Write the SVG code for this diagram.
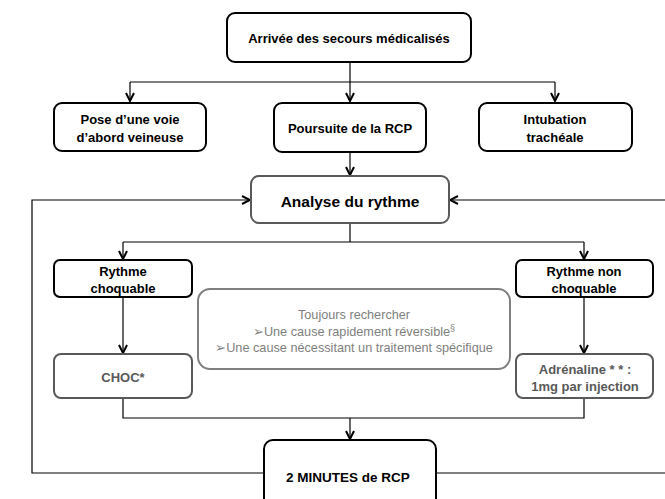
<svg xmlns="http://www.w3.org/2000/svg" width="665" height="499" viewBox="0 0 665 499">
<style>
.b{fill:#fff;stroke:#000;stroke-width:2}
.g{fill:#fff;stroke:#595959;stroke-width:2}
.lg{fill:#fff;stroke:#7f7f7f;stroke-width:2}
.t{font-family:"Liberation Sans",Arial,sans-serif;font-weight:bold;font-size:13px;fill:#000;text-anchor:middle}
.tg{fill:#595959}
.tl{font-family:"Liberation Sans",Arial,sans-serif;font-size:12.7px;fill:#808080;text-anchor:middle}
.c{fill:none;stroke:#000;stroke-width:1.2}
</style>
<defs>
<marker id="arr" viewBox="0 0 10 10" refX="9" refY="5" markerWidth="10" markerHeight="10" markerUnits="userSpaceOnUse" orient="auto">
<path d="M1,1 L9,5 L1,9" fill="none" stroke="#000" stroke-width="2"/>
</marker>
</defs>
<g id="connectors">
<path class="c" d="M350,62 V101" marker-end="url(#arr)"/>
<path class="c" d="M130,82 H555"/>
<path class="c" d="M130,82 V101" marker-end="url(#arr)"/>
<path class="c" d="M555,82 V101" marker-end="url(#arr)"/>
<path class="c" d="M350,152 V175" marker-end="url(#arr)"/>
<path class="c" d="M350,223 V242"/>
<path class="c" d="M123,242 H584"/>
<path class="c" d="M123,242 V259" marker-end="url(#arr)"/>
<path class="c" d="M584,242 V259" marker-end="url(#arr)"/>
<path class="c" d="M123,297 V353" marker-end="url(#arr)"/>
<path class="c" d="M584,297 V353" marker-end="url(#arr)"/>
<path class="c" d="M123,398 V418 H584 V398"/>
<path class="c" d="M350,418 V439" marker-end="url(#arr)"/>
<path class="c" d="M264,473 H32 V200 H250" marker-end="url(#arr)"/>
<path class="c" d="M436,473 H666"/>
<path class="c" d="M666,200 H450" marker-end="url(#arr)"/>
</g>
<g id="arrivee">
<rect class="b" x="227" y="13" width="244" height="49" rx="8"/>
<text class="t" x="349" y="43">Arrivée des secours médicalisés</text>
</g>
<g id="voie">
<rect class="b" x="54" y="103" width="152" height="48" rx="8"/>
<text class="t" x="130" y="124">Pose d’une voie</text>
<text class="t" x="130" y="142">d’abord veineuse</text>
</g>
<g id="rcp">
<rect class="b" x="274" y="103" width="152" height="49" rx="8"/>
<text class="t" x="350" y="133">Poursuite de la RCP</text>
</g>
<g id="intubation">
<rect class="b" x="479" y="103" width="153" height="48" rx="8"/>
<text class="t" x="555" y="124">Intubation</text>
<text class="t" x="555" y="142">trachéale</text>
</g>
<g id="analyse">
<rect class="g" x="251" y="176" width="198" height="47" rx="8"/>
<text class="t" x="350" y="207" style="font-size:15.5px">Analyse du rythme</text>
</g>
<g id="choquable">
<rect class="b" x="54" y="260" width="138" height="37" rx="6"/>
<text class="t" x="123" y="276">Rythme</text>
<text class="t" x="123" y="293">choquable</text>
</g>
<g id="nonchoquable">
<rect class="b" x="516" y="260" width="137" height="37" rx="6"/>
<text class="t" x="584" y="276">Rythme non</text>
<text class="t" x="584" y="293">choquable</text>
</g>
<g id="rechercher">
<rect class="lg" x="198" y="289" width="312" height="80" rx="12"/>
<text class="tl" x="354" y="319">Toujours rechercher</text>
<text class="tl" x="354" y="336">➢Une cause rapidement réversible<tspan dy="-5" font-size="9">§</tspan></text>
<text class="tl" x="354" y="352">➢Une cause nécessitant un traitement spécifique</text>
</g>
<g id="choc">
<rect class="g" x="54" y="354" width="138" height="44" rx="7"/>
<text class="t tg" x="123" y="382">CHOC*</text>
</g>
<g id="adrenaline">
<rect class="g" x="516" y="354" width="137" height="44" rx="7"/>
<text class="t tg" x="585" y="374">Adrénaline * * :</text>
<text class="t tg" x="585" y="391">1mg par injection</text>
</g>
<g id="deuxminutes">
<rect class="b" x="264" y="440" width="172" height="72" rx="9"/>
<text class="t" x="348" y="482" style="font-size:13.5px">2 MINUTES de RCP</text>
</g>
</svg>
